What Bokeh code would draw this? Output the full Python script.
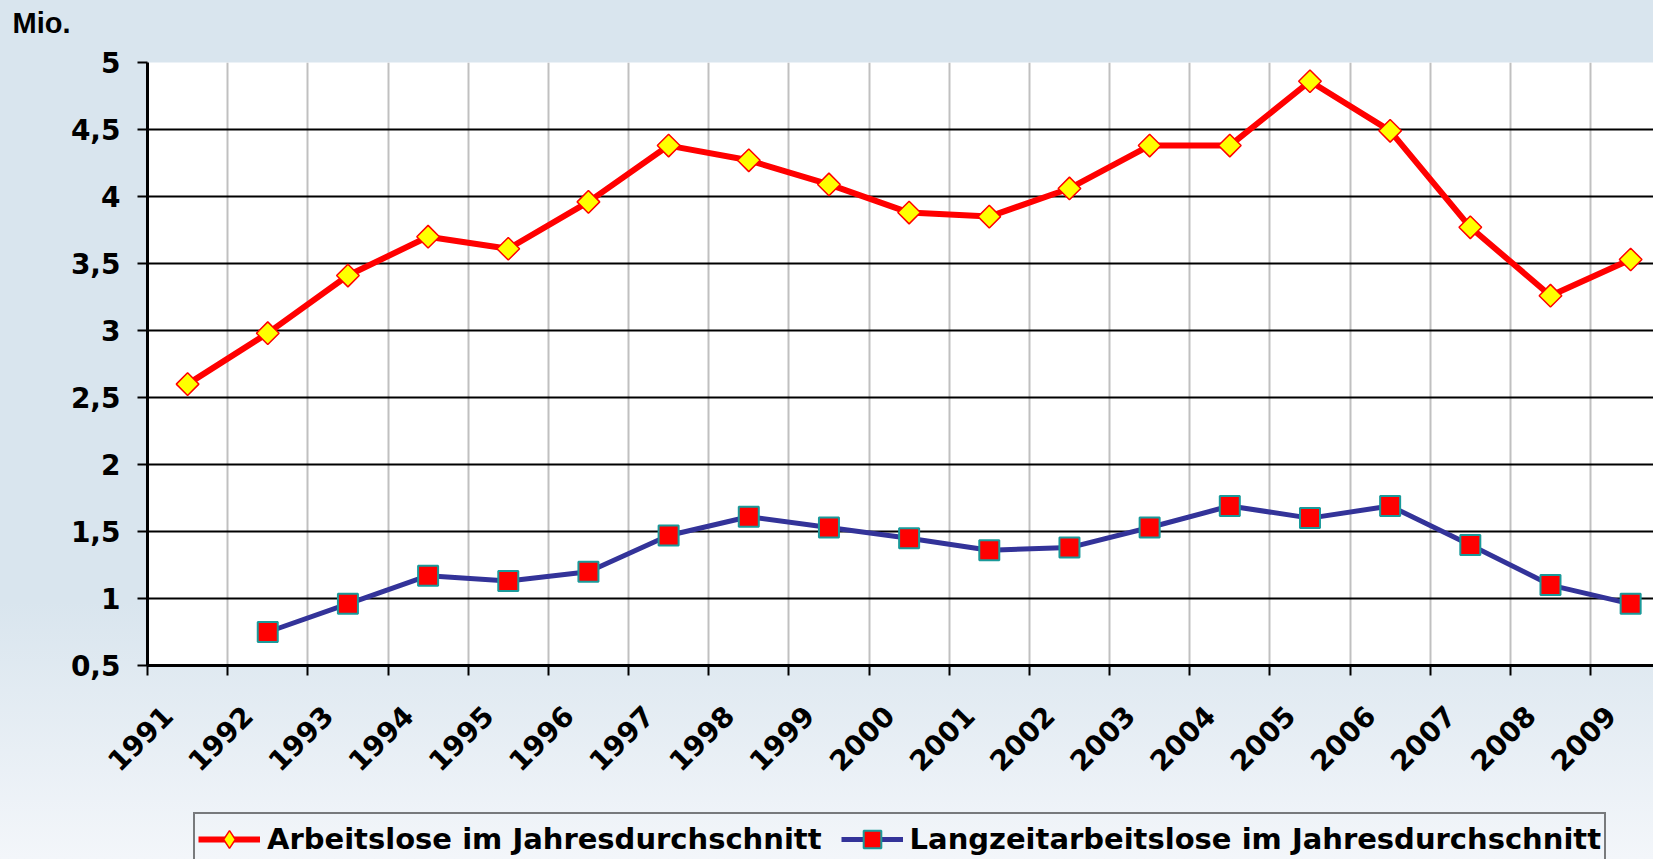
import math
from bokeh.plotting import figure
from bokeh.layouts import column
from bokeh.models import FixedTicker, Range1d, Legend, LegendItem
from bokeh.embed import file_html
from bokeh.resources import INLINE

# ---------------- data ----------------
years = ["1991", "1992", "1993", "1994", "1995", "1996", "1997", "1998", "1999", "2000",
         "2001", "2002", "2003", "2004", "2005", "2006", "2007", "2008", "2009"]
arbeitslose = [2.60, 2.98, 3.41, 3.70, 3.61, 3.96, 4.38, 4.27, 4.09, 3.88,
               3.85, 4.06, 4.38, 4.38, 4.86, 4.49, 3.77, 3.26, 3.53]
langzeit = [float("nan"), 0.75, 0.96, 1.17, 1.13, 1.20, 1.47, 1.61, 1.53, 1.45,
            1.36, 1.38, 1.53, 1.69, 1.60, 1.69, 1.40, 1.10, 0.96]
y_ticks = [0.5, 1.0, 1.5, 2.0, 2.5, 3.0, 3.5, 4.0, 4.5, 5.0]
y_tick_labels = ["0,5", "1", "1,5", "2", "2,5", "3", "3,5", "4", "4,5", "5"]
label_red = "Arbeitslose im Jahresdurchschnitt"
label_blue = "Langzeitarbeitslose im Jahresdurchschnitt"
unit_label = "Mio."

xs = list(range(len(years)))
n = len(years)

FONT = "DejaVu Sans"
RED, YELLOW, NAVY, TEAL = "#ff0000", "#ffff00", "#333399", "#1a9a9a"

# ---------------- header strip with the unit label ----------------
h = figure(width=1653, height=45, output_backend="svg", toolbar_location=None,
           x_range=Range1d(0, 1), y_range=Range1d(0, 1),
           x_axis_location=None, y_axis_location=None, min_border=0, title=unit_label)
h.grid.visible = False
h.outline_line_color = None
h.background_fill_alpha = 0
h.border_fill_alpha = 0
h.title.align = "left"
h.title.offset = -135
h.title.standoff = 8
h.title.text_font = "Liberation Sans"
h.title.text_font_style = "bold"
h.title.text_font_size = "29px"
h.title.text_color = "black"

# ---------------- main chart ----------------
p = figure(width=1653, height=766, output_backend="svg", toolbar_location=None,
           x_range=Range1d(-0.5, 18.285), y_range=Range1d(0.5, 5.0),
           min_border_left=147, min_border_right=0, min_border_top=17, min_border_bottom=146)

p.background_fill_color = "white"
p.border_fill_alpha = 0
p.outline_line_color = None

# grids
p.xgrid.ticker = FixedTicker(ticks=[i + 0.5 for i in range(n)])
p.xgrid.grid_line_color = "#c0c0c0"
p.xgrid.grid_line_width = 2
p.ygrid.ticker = FixedTicker(ticks=y_ticks)
p.ygrid.grid_line_color = "black"
p.ygrid.grid_line_width = 2

# y axis
ya = p.yaxis[0]
ya.ticker = FixedTicker(ticks=y_ticks)
ya.major_label_overrides = {t: s for t, s in zip(y_ticks, y_tick_labels)}
ya.axis_line_width = 3
ya.axis_line_color = "black"
ya.major_tick_out = 10
ya.major_tick_in = 0
ya.major_tick_line_width = 2
ya.minor_tick_line_color = None
ya.major_label_text_font = FONT
ya.major_label_text_font_style = "bold"
ya.major_label_text_font_size = "28px"
ya.major_label_text_color = "black"
ya.major_label_standoff = 17

# x axis (labels sit between the tick marks)
label_pos = [round(i - 0.25, 2) for i in xs]
xa = p.xaxis[0]
xa.ticker = FixedTicker(ticks=label_pos, minor_ticks=[i - 0.5 for i in range(n + 1)])
xa.major_label_overrides = {pos: y for pos, y in zip(label_pos, years)}
xa.major_label_orientation = math.pi / 4
xa.axis_line_width = 3
xa.axis_line_color = "black"
xa.major_tick_line_color = None
xa.major_tick_out = 0
xa.major_tick_in = 0
xa.minor_tick_out = 10
xa.minor_tick_in = 0
xa.minor_tick_line_width = 2
xa.minor_tick_line_color = "black"
xa.major_label_text_font = FONT
xa.major_label_text_font_style = "bold"
xa.major_label_text_font_size = "28px"
xa.major_label_text_color = "black"
xa.major_label_standoff = 35

# series
p.line(xs, arbeitslose, line_color=RED, line_width=6)
p.scatter(xs, arbeitslose, marker="square", angle=math.pi / 4, size=16,
          fill_color=YELLOW, line_color=RED, line_width=1.5)
p.line(xs, langzeit, line_color=NAVY, line_width=5)
p.scatter(xs, langzeit, marker="square", size=20,
          fill_color=RED, line_color=TEAL, line_width=2)

# ---------------- legend strip (its plot area is empty; only the legend shows) ----------------
q = figure(width=1653, height=48, output_backend="svg", toolbar_location=None,
           x_range=Range1d(100, 101), y_range=Range1d(100, 101),
           x_axis_location=None, y_axis_location=None, min_border=0)
q.grid.visible = False
q.outline_line_color = None
q.background_fill_alpha = 0
q.border_fill_alpha = 0

lr = q.line(xs, arbeitslose, line_color=RED, line_width=6)
sr = q.scatter(xs, arbeitslose, marker="diamond", fill_color=YELLOW, line_color=RED, line_width=1.5)
lb = q.line(xs, langzeit, line_color=NAVY, line_width=5)
sb = q.scatter(xs, langzeit, marker="square", fill_color=RED, line_color=TEAL, line_width=2)

legend = Legend(items=[LegendItem(label=label_red, renderers=[lr, sr]),
                       LegendItem(label=label_blue, renderers=[lb, sb])],
                orientation="horizontal", location=(46, -7),
                label_text_font=FONT, label_text_font_style="bold",
                label_text_font_size="29px", label_text_color="black",
                glyph_width=62, glyph_height=44, label_standoff=7, spacing=19,
                padding=3, margin=0, border_line_color="black", border_line_width=2,
                background_fill_alpha=0)
q.add_layout(legend)

page = column(h, p, q, spacing=0)
page.styles = {"background": "linear-gradient(to bottom, #d9e5ee 0%, #d9e5ee 70%, #f3f6fa 100%)"}

open("out.html", "w").write(file_html(page, INLINE))
